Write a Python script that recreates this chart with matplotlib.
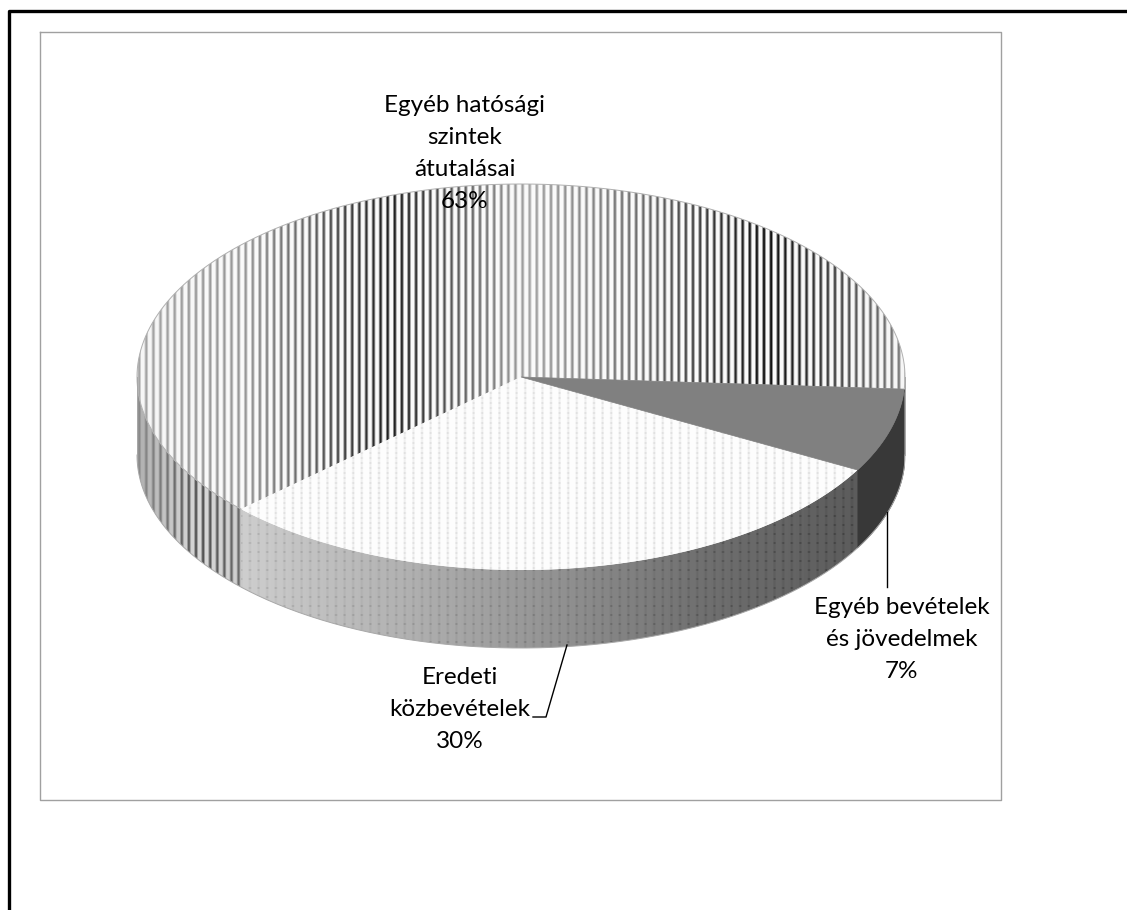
import numpy as np
import matplotlib
matplotlib.use('Agg')
import matplotlib.pyplot as plt
from matplotlib.patches import Polygon

plt.rcParams['font.family'] = ['Lato', 'DejaVu Sans']

# share of each slice, clockwise from the right edge of the pie
slices = ['Egyéb bevételek\nés jövedelmek', 'Eredeti\nközbevételek', 'Egyéb hatósági\nszintek\nátutalásai']
values = [7, 30, 63]
value_labels = ['7%', '30%', '63%']

WIDTH, HEIGHT = 1127, 910
CX, CY, RX, RY = 521, 377, 384, 193
DEPTH = 78
START = -3.6

def rim(t):
	t = np.radians(t)
	return CX + RX * np.cos(t), CY - RY * np.sin(t)

def top_face(t0, t1):
	x, y = rim(np.linspace(t0, t1, 300))
	return np.column_stack([np.r_[CX, x], np.r_[CY, y]])

def side_face(t0, t1):
	x, y = rim(np.linspace(t0, t1, 200))
	return np.column_stack([np.r_[x, x[::-1]], np.r_[y, y[::-1] + DEPTH]])

def stripe_profile(x, period, x0, width):
	d = np.abs((x - x0 + period / 2) % period - period / 2)
	return np.clip(1.2 - d / width, 0, 1)

def stripes_texture(xp, shades, paper):
	x = np.arange(WIDTH) + 0.5
	prof = stripe_profile(x, 7.1, 764.0, 1.9)
	shade = np.interp(x, xp, shades)
	row = np.interp(x, xp, paper) - (np.interp(x, xp, paper) - shade) * prof
	return np.tile(row, (HEIGHT, 1))

def dotted_texture(xp, shades, column, dot, dot_period):
	x = np.arange(WIDTH) + 0.5
	y = np.arange(HEIGHT) + 0.5
	base = np.interp(x, xp, shades)
	col = stripe_profile(x, 8.6, 250.0, 1.6)
	img = np.tile(base - column * col, (HEIGHT, 1))
	dots = np.outer(stripe_profile(y, dot_period, 3.0, 0.9), col)
	return np.clip(img - dot * dots, 0, 255)

def fill(ax, verts, texture):
	poly = Polygon(verts, closed=True, facecolor='none', edgecolor='none', transform=ax.transData)
	ax.add_patch(poly)
	im = ax.imshow(texture, cmap='gray', vmin=0, vmax=255, extent=(0, WIDTH, HEIGHT, 0),
		interpolation='bilinear', aspect='auto', zorder=2)
	im.set_clip_path(poly)

fig = plt.figure(figsize=(WIDTH / 100, HEIGHT / 100), dpi=100)
ax = fig.add_axes([0, 0, 1, 1])

# slice angles come straight from the values
angles = START - np.cumsum([0] + values) * 3.6
a0, a1, a2, a3 = angles

top_stripes = stripes_texture([137, 250, 390, 530, 640, 770, 905],
	[165, 150, 30, 165, 110, 15, 130], [245, 250, 250, 250, 250, 250, 245])
top_dots = dotted_texture([0, WIDTH], [253, 253], 14, 22, 5.0)
side_stripes = stripes_texture([137, 165, 200, 243], [140, 120, 80, 110], [175, 195, 215, 205])
side_dots = dotted_texture([243, 400, 560, 700, 855], [205, 178, 145, 112, 92], 8, 28, 9.0)

# sides first, only the front half is visible
fill(ax, side_face(-180, a2), side_stripes)
fill(ax, side_face(a1, a2), side_dots)
ax.add_patch(Polygon(side_face(a0, a1), closed=True, facecolor='#383838', edgecolor='#383838', lw=0.5, zorder=3))

fill(ax, top_face(a2, a3), top_stripes)
fill(ax, top_face(a1, a2), top_dots)
ax.add_patch(Polygon(top_face(a0, a1), closed=True, facecolor='#808080', edgecolor='#808080', lw=0.5, zorder=3))

# thin rim outline
x, y = rim(np.linspace(a2, a3, 500))
ax.plot(x, y, color='#b0b0b0', lw=0.7, zorder=4)
x, y = rim(np.linspace(-180, 0, 360))
ax.plot(x, y + DEPTH, color='#a8a8a8', lw=0.7, zorder=4)
ax.plot([CX - RX, CX - RX], [CY, CY + DEPTH], color='#a8a8a8', lw=0.7, zorder=4)
ax.plot([CX + RX, CX + RX], [CY, CY + DEPTH], color='#a8a8a8', lw=0.7, zorder=4)

# leader lines
ax.plot([887, 887], [512, 587], color='black', lw=1, zorder=5)
ax.plot([567, 546, 533], [645, 717, 717], color='black', lw=1, zorder=5)

# chart area and page frame
ax.plot([40, 1001, 1001, 40, 40], [32, 32, 800, 800, 32], color='#a0a0a0', lw=1, zorder=1)
ax.plot([9, 9, WIDTH], [HEIGHT, 11, 11], color='black', lw=2.4, zorder=1)

text_style = dict(ha='center', va='center', fontsize=17.5, color='black', zorder=6)
lines = [
	(465, [106, 138, 169, 202], slices[2].split('\n') + [value_labels[2]]),
	(902, [607, 639, 671], slices[0].split('\n') + [value_labels[0]]),
	(460, [678, 709, 741], slices[1].split('\n') + [value_labels[1]]),
]
for cx, ys, labels in lines:
	for yy, label in zip(ys, labels):
		ax.text(cx, yy, label, **text_style)

ax.set_xlim(0, WIDTH)
ax.set_ylim(HEIGHT, 0)
ax.axis('off')
fig.savefig('out.png', dpi=100, facecolor='white')
